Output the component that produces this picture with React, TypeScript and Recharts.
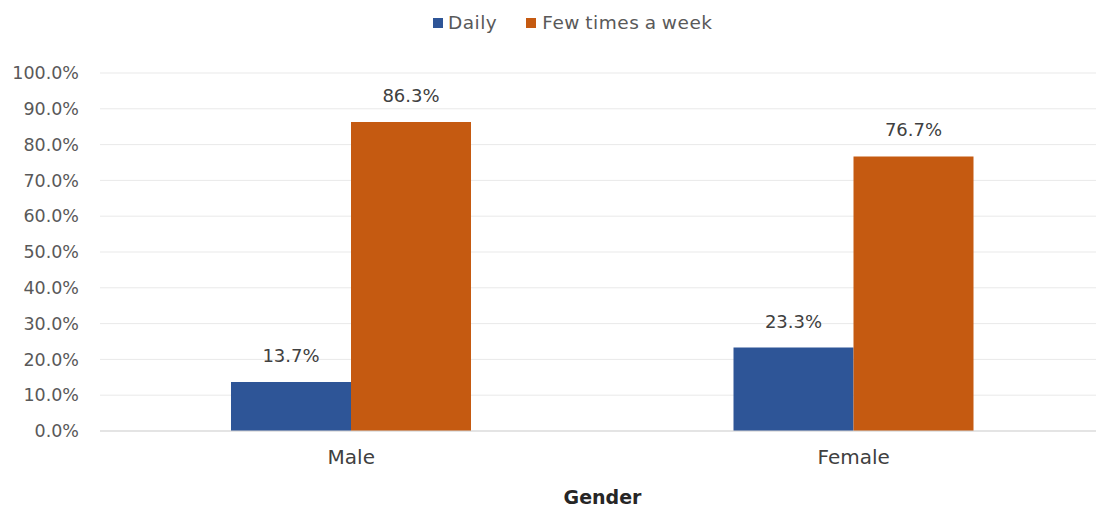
import React from 'react';
import { BarChart, Bar, XAxis, YAxis, CartesianGrid, Legend, LabelList } from 'recharts';

const categories = ['Male', 'Female'];
const dailyValues = [0.137, 0.233];
const fewTimesValues = [0.863, 0.767];
const yTicks = [0, 0.1, 0.2, 0.3, 0.4, 0.5, 0.6, 0.7, 0.8, 0.9, 1.0];

const data = categories.map((gender, i) => ({
  gender,
  daily: dailyValues[i],
  fewTimes: fewTimesValues[i],
}));

const BLUE = '#2E5597';
const ORANGE = '#C55A11';
const FONT = '"DejaVu Sans", sans-serif';

const pct = (v: number) => `${(v * 100).toFixed(1)}%`;

const LegendContent = () => (
  <div
    style={{
      display: 'flex',
      alignItems: 'center',
      fontFamily: FONT,
      fontSize: 18.5,
      lineHeight: '19px',
      height: 19,
      color: '#595959',
      paddingLeft: 433,
    }}
  >
    <span style={{ width: 10, height: 10, background: BLUE, display: 'inline-block', marginRight: 5 }} />
    <span style={{ marginRight: 29, letterSpacing: 0.5 }}>Daily</span>
    <span style={{ width: 10, height: 10, background: ORANGE, display: 'inline-block', marginRight: 6 }} />
    <span style={{ letterSpacing: 0.5, wordSpacing: -1 }}>Few times a week</span>
  </div>
);

export default function App() {
  return (
    <div
      style={{
        position: 'absolute',
        left: 0,
        top: 0,
        width: 1096,
        height: 508,
        overflow: 'hidden',
        background: '#fff',
      }}
    >
      <BarChart
        width={1110}
        height={508}
        data={data}
        margin={{ top: 54, right: 5, bottom: 0, left: 3 }}
        barCategoryGap={131}
        barGap={0}
      >
        <CartesianGrid vertical={false} stroke="#e9e9e9" />
        <Legend verticalAlign="top" content={<LegendContent />} wrapperStyle={{ top: 13, left: 0 }} />
        <YAxis
          width={97}
          domain={[0, 1]}
          ticks={yTicks}
          tickFormatter={pct}
          axisLine={false}
          tickLine={false}
          tickSize={0}
          tickMargin={21}
          interval={0}
          tick={{ fill: '#595959', fontSize: 17.5, fontFamily: FONT }}
        />
        <XAxis
          dataKey="gender"
          height={77}
          axisLine={{ stroke: '#d4d4d4' }}
          tickLine={false}
          tickSize={0}
          tickMargin={19}
          tick={{ fill: '#404040', fontSize: 20, fontFamily: FONT }}
          label={{
            value: 'Gender',
            position: 'insideBottom',
            offset: 4,
            fill: '#262626',
            fontSize: 19,
            fontWeight: 'bold',
            fontFamily: FONT,
          }}
        />
        <Bar dataKey="daily" name="Daily" fill={BLUE} isAnimationActive={false}>
          <LabelList dataKey="daily" position="top" offset={20} formatter={pct} fill="#404040" fontSize={18} fontFamily={FONT} />
        </Bar>
        <Bar dataKey="fewTimes" name="Few times a week" fill={ORANGE} isAnimationActive={false}>
          <LabelList dataKey="fewTimes" position="top" offset={20} formatter={pct} fill="#404040" fontSize={18} fontFamily={FONT} />
        </Bar>
      </BarChart>
    </div>
  );
}
